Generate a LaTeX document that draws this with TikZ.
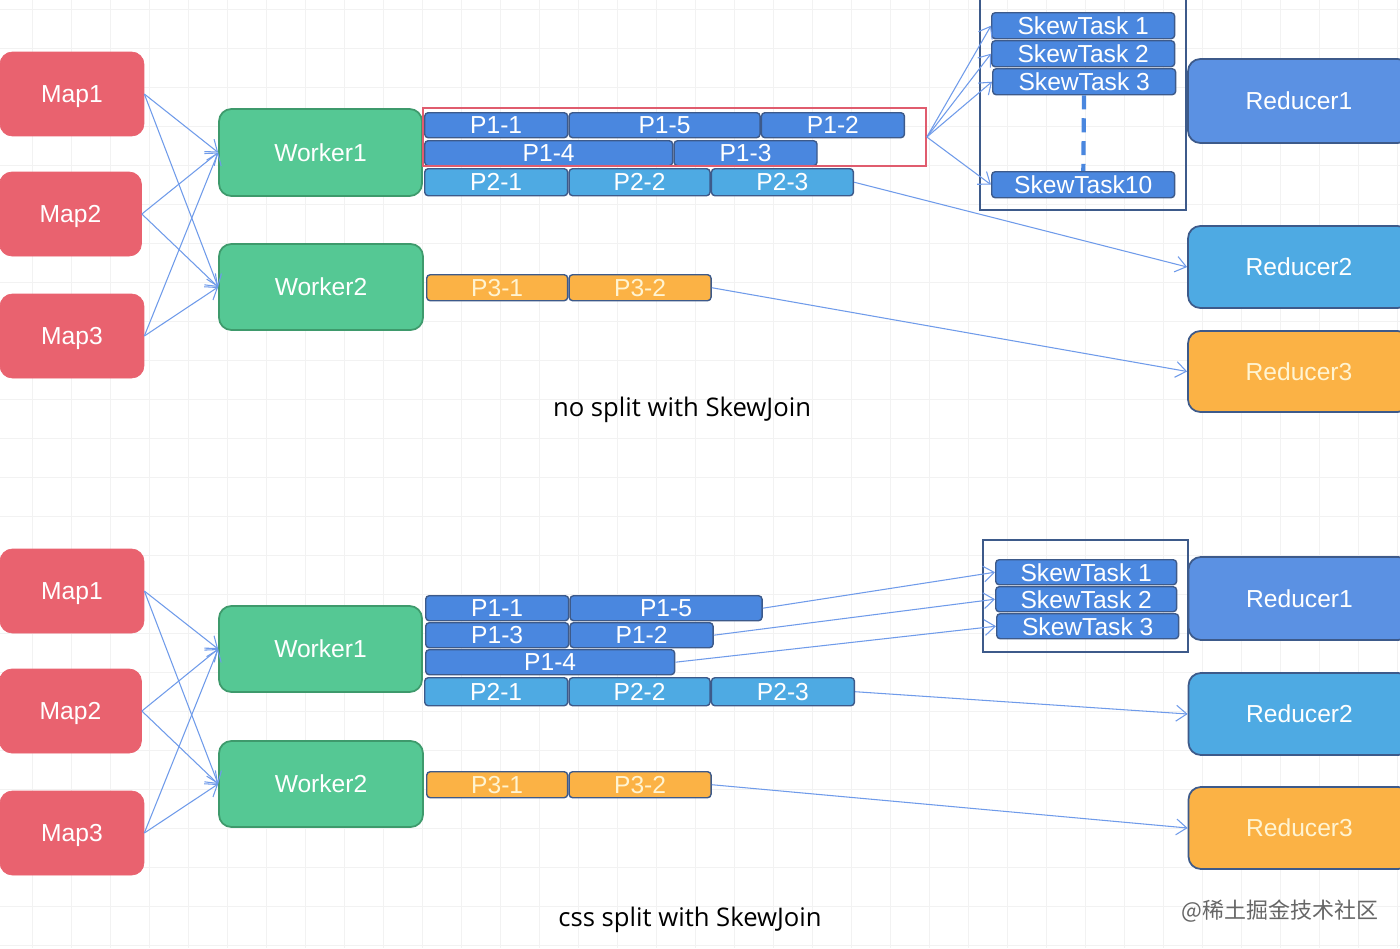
\documentclass[tikz,border=0pt]{standalone}
\usepackage{fontspec}
\setmainfont{Liberation Sans}
\newfontfamily\capfont{Open Sans}
\newfontfamily\cjk{Noto Sans CJK SC}
\usetikzlibrary{positioning,arrows.meta}

\definecolor{mapred}{HTML}{E9626F}
\definecolor{workgreen}{HTML}{55C894}
\definecolor{workedge}{HTML}{3E9A6C}
\definecolor{pblue}{HTML}{4A87DF}
\definecolor{plight}{HTML}{4EAAE3}
\definecolor{porange}{HTML}{FBB245}
\definecolor{redblue}{HTML}{5B91E3}
\definecolor{slate}{HTML}{3D5A8A}
\definecolor{flowblue}{HTML}{6F9BEA}
\definecolor{hotred}{HTML}{E05C6E}
\definecolor{cream}{HTML}{FFF4D2}

\tikzset{
  lbl/.style={font=\fontsize{14}{15}\selectfont, inner sep=0pt, text depth=0pt},
  mapbox/.style={lbl, fill=mapred, draw=mapred, text=white, rounded corners=7pt,
    minimum width=2.88cm, minimum height=1.68cm},
  workbox/.style={lbl, fill=workgreen, draw=workedge, line width=1pt, text=white,
    rounded corners=7pt, minimum height=1.74cm},
  part/.style={lbl, draw=slate, line width=0.8pt, text=white, rounded corners=2pt,
    minimum height=0.5cm},
  pone/.style={part, fill=pblue},
  ptwo/.style={part, fill=plight, minimum height=0.54cm},
  pthree/.style={part, fill=porange, text=cream, minimum height=0.52cm},
  taskbox/.style={part, fill=pblue, minimum width=3.66cm, minimum height=0.52cm},
  reducer/.style={lbl, draw=slate, line width=1pt, text=white, rounded corners=7pt,
    minimum width=4.44cm},
  flow/.style={draw=flowblue, line width=0.6pt, -{Straight Barb[length=6pt,width=9pt]}},
  gridline/.style={draw=black!5, line width=0.4pt}
}

\begin{document}
\begin{tikzpicture}[x=0.02cm, y=-0.02cm]
\useasboundingbox (0,0) rectangle (1400,948);
\fill[white] (0,0) rectangle (1400,948);
\foreach \gx in {32,71,...,1400} \draw[gridline] (\gx,0) -- (\gx,948);
\foreach \gy in {9,48,...,948} \draw[gridline] (0,\gy) -- (1400,\gy);

% ---- no split ----
\node[mapbox] (map1a) at (72,94) {Map1};
\node[mapbox, minimum width=2.84cm] (map2a) at (70.5,214) {Map2};
\node[mapbox] (map3a) at (72,336) {Map3};
\node[workbox, minimum width=4.06cm] (work1a) at (320.5,152.5) {Worker1};
\node[workbox, minimum width=4.08cm, minimum height=1.72cm] (work2a) at (321,287) {Worker2};

\node[pone, anchor=north west, minimum width=2.86cm] (p11a) at (424,112) {P1-1};
\node[pone, minimum width=3.82cm, right=0pt of p11a] (p15a) {P1-5};
\node[pone, minimum width=2.86cm, right=0pt of p15a] (p12a) {P1-2};
\node[pone, anchor=north west, minimum width=4.96cm] (p14a) at (424,140) {P1-4};
\node[pone, minimum width=2.86cm, right=0pt of p14a] (p13a) {P1-3};
\node[ptwo, anchor=north west, minimum width=2.86cm] (p21a) at (424,168) {P2-1};
\node[ptwo, minimum width=2.82cm, right=0pt of p21a] (p22a) {P2-2};
\node[ptwo, minimum width=2.84cm, right=0pt of p22a] (p23a) {P2-3};
\node[pthree, anchor=north west, minimum width=2.82cm] (p31a) at (426,274) {P3-1};
\node[pthree, minimum width=2.84cm, right=0pt of p31a] (p32a) {P3-2};
\node[draw=hotred, line width=1pt, minimum width=10.06cm, minimum height=1.16cm] (hot) at (674.5,137) {};

\node[draw=slate, line width=1pt, minimum width=4.12cm, minimum height=4.3cm] (skewa) at (1083,102.5) {};
\node[taskbox, anchor=north west] (st1a) at (991,12) {SkewTask 1};
\node[taskbox, anchor=north west] (st2a) at (991,40) {SkewTask 2};
\node[taskbox, anchor=north west] (st3a) at (992,68) {SkewTask 3};
\node[taskbox, anchor=north west] (st10a) at (991,171) {SkewTask10};
\draw[draw=pblue, line width=2.4pt, dash pattern=on 8pt off 5pt] (st3a) -- (st10a);

\node[reducer, fill=redblue, minimum height=1.68cm] (red1a) at (1299,101) {Reducer1};
\node[reducer, fill=plight, minimum height=1.64cm] (red2a) at (1299,267) {Reducer2};
\node[reducer, fill=porange, text=cream, minimum height=1.62cm] (red3a) at (1299,371.5) {Reducer3};

\foreach \m in {map1a,map2a,map3a} {
  \draw[flow] (\m.east) -- (work1a.west);
  \draw[flow] (\m.east) -- (work2a.west);
}
\foreach \t in {st1a,st2a,st3a,st10a} \draw[flow] (hot.east) -- (\t.west);
\draw[flow] (p23a.east) -- (red2a.west);
\draw[flow] (p32a.east) -- (red3a.west);

\node[font=\capfont\fontsize{14.6}{16}\selectfont] (capa) at (682,410) {no split with SkewJoin};

% ---- css split ----
\node[mapbox] (map1b) at (72,591) {Map1};
\node[mapbox, minimum width=2.84cm] (map2b) at (70.5,711) {Map2};
\node[mapbox] (map3b) at (72,833) {Map3};
\node[workbox, minimum width=4.06cm, minimum height=1.72cm] (work1b) at (320.5,649) {Worker1};
\node[workbox, minimum width=4.08cm, minimum height=1.72cm] (work2b) at (321,784) {Worker2};

\node[pone, anchor=north west, minimum width=2.86cm] (p11b) at (425,595) {P1-1};
\node[pone, minimum width=3.84cm, right=0pt of p11b] (p15b) {P1-5};
\node[pone, anchor=north west, minimum width=2.86cm] (p13b) at (425,622) {P1-3};
\node[pone, minimum width=2.86cm, right=0pt of p13b] (p12b) {P1-2};
\node[pone, anchor=north west, minimum width=4.98cm] (p14b) at (425,649) {P1-4};
\node[ptwo, anchor=north west, minimum width=2.86cm, minimum height=0.56cm] (p21b) at (424,677) {P2-1};
\node[ptwo, minimum width=2.82cm, minimum height=0.56cm, right=0pt of p21b] (p22b) {P2-2};
\node[ptwo, minimum width=2.86cm, minimum height=0.56cm, right=0pt of p22b] (p23b) {P2-3};
\node[pthree, anchor=north west, minimum width=2.82cm] (p31b) at (426,771) {P3-1};
\node[pthree, minimum width=2.84cm, right=0pt of p31b] (p32b) {P3-2};

\node[draw=slate, line width=1pt, minimum width=4.1cm, minimum height=2.24cm] (skewb) at (1085.5,596) {};
\node[taskbox, anchor=north west, minimum width=3.62cm, minimum height=0.5cm] (st1b) at (995,559) {SkewTask 1};
\node[taskbox, anchor=north west, minimum width=3.62cm, minimum height=0.5cm] (st2b) at (995,586) {SkewTask 2};
\node[taskbox, anchor=north west, minimum width=3.64cm, minimum height=0.5cm] (st3b) at (996,613) {SkewTask 3};

\node[reducer, fill=redblue, minimum height=1.66cm] (red1b) at (1299.5,598.5) {Reducer1};
\node[reducer, fill=plight, minimum height=1.64cm] (red2b) at (1299.5,714) {Reducer2};
\node[reducer, fill=porange, text=cream, minimum height=1.64cm] (red3b) at (1299.5,828) {Reducer3};

\foreach \m in {map1b,map2b,map3b} {
  \draw[flow] (\m.east) -- (work1b.west);
  \draw[flow] (\m.east) -- (work2b.west);
}
\draw[flow] (p15b.east) -- (st1b.west);
\draw[flow] (p12b.east) -- (st2b.west);
\draw[flow] (p14b.east) -- (st3b.west);
\draw[flow] (p23b.east) -- (red2b.west);
\draw[flow] (p32b.east) -- (red3b.west);

\node[font=\capfont\fontsize{14.6}{16}\selectfont] (capb) at (690,920) {css split with SkewJoin};
\node[font=\cjk\fontsize{12.5}{14}\selectfont, text=black!60] (mark) at (1280,911) {@稀土掘金技术社区};
\end{tikzpicture}
\end{document}
